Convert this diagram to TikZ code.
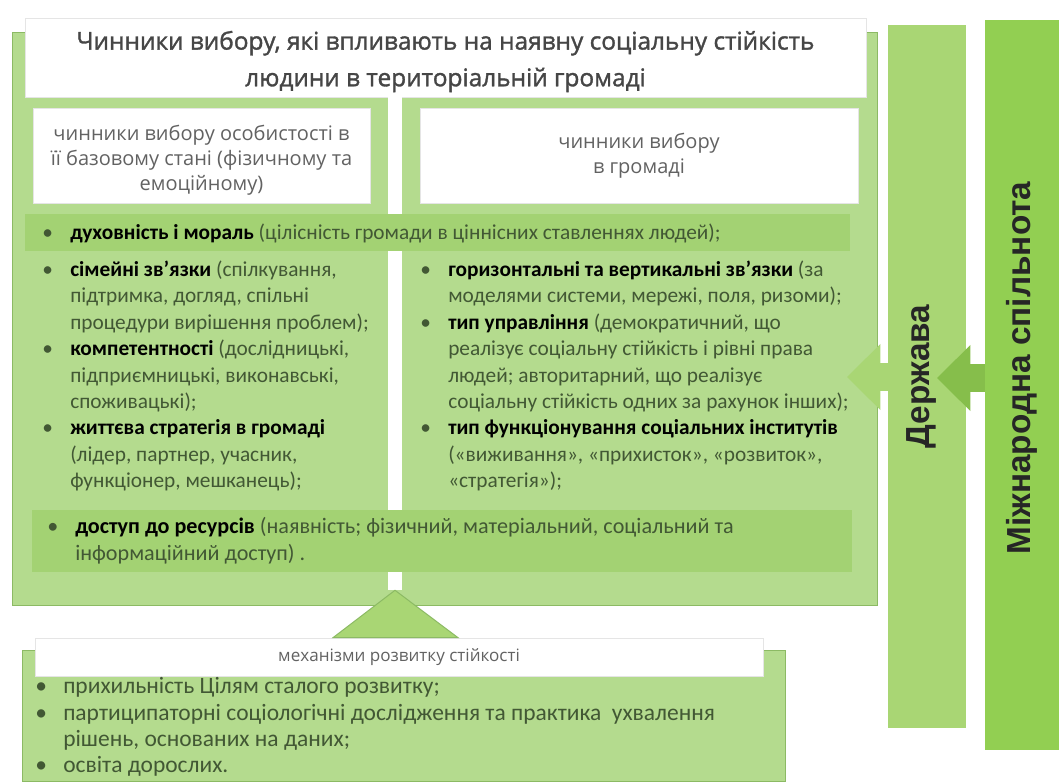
\documentclass[tikz,border=0pt]{standalone}
\usepackage{fontspec}
\setmainfont{Carlito}
\newfontfamily\headfont{Open Sans}
\newfontfamily\titlefont{Open Sans}[FakeBold=1.4]
\newfontfamily\sidefont{Liberation Sans}
\usetikzlibrary{positioning,arrows.meta,calc,fit}
\definecolor{boxg}{RGB}{180,219,142}
\definecolor{barg}{RGB}{163,210,115}
\definecolor{stateg}{RGB}{169,214,116}
\definecolor{worldg}{RGB}{146,207,82}
\definecolor{edgeg}{RGB}{140,186,100}
\definecolor{bodyc}{RGB}{66,88,52}
\definecolor{headc}{RGB}{70,70,70}
\tikzset{
  panel/.style={draw=edgeg, fill=boxg, line width=0.75pt, inner sep=0pt},
  hdrbox/.style={fill=white, draw=gray!20, line width=0.5pt, inner sep=0pt},
  bar/.style={fill=barg, inner sep=0pt},
  split/.style={fill=white, inner sep=0pt},
  statebox/.style={fill=stateg, inner sep=0pt},
  worldbox/.style={fill=worldg, inner sep=0pt},
  lst/.style={anchor=west, align=left, inner sep=0pt, text=bodyc, font=\fontsize{16}{19.8}\selectfont},
  hd/.style={align=center, inner sep=0pt, text=headc!85, font=\headfont\fontsize{15}{18.8}\selectfont},
  lbl/.style={rotate=90, inner sep=0pt, text=black!85, font=\sidefont\bfseries\fontsize{25}{25}\selectfont},
  blk/.style={-{Triangle[length=25pt,width=48pt]}, line width=21pt},
}
\newcommand\pnt{\makebox[21pt][l]{\textbullet}}
\newcommand\ind{\hspace*{21pt}}
\newcommand\kw[1]{\textbf{\color{black}#1}}

\begin{document}
\begin{tikzpicture}[x=0.75pt,y=-0.75pt]
\useasboundingbox (0,0) rectangle (1059,783);
% right-hand frames
\node[worldbox, fit={(985,20) (1059,750)}] (world) {};
\node[statebox, fit={(888,25) (966,728)}] (state) {};
% main block
\node[panel, fit={(12,32) (877,605)}] (main) {};
\node[hdrbox, fit={(25,18) (866,97)}] (title) {};
\node[split, fit={(388,97) (402,590)}] (gap) {};
\node[hdrbox, fit={(33,108) (370,203)}] (pers) {};
\node[hdrbox, fit={(420,108) (858,203)}] (comm) {};
\node[bar, fit={(25,214) (850,251)}] (moral) {};
\node[bar, fit={(32,510) (852,572)}] (access) {};
% mechanisms
\node[panel, fit={(22,650) (785,781)}] (mech) {};
\node[hdrbox, fit={(35,638) (763,676)}] (mechhd) {};
\fill[stateg, draw=edgeg, line width=0.75pt] (gap.south)
  -- ($(gap.south |- mechhd.north)+(-62,0)$) -- ($(gap.south |- mechhd.north)+(63,0)$) -- cycle;
% arrows
\coordinate (tipw) at (937,378);
\coordinate (tips) at (847,377);
\draw[blk, worldg!92!black] (world.west |- tipw) -- (tipw);
\draw[blk, stateg] (state.west |- tips) -- (tips);
% texts
\node[font=\titlefont\fontsize{18.3}{27.5}\selectfont, align=center, text=headc, inner sep=0pt]
  at ($(title.center)+(0,4)$) {Чинники вибору, які впливають на наявну соціальну стійкість\\людини в територіальній громаді};
\node[hd] at ($(pers.center)+(0,5)$) {чинники вибору особистості в\\її базовому стані (фізичному та\\емоційному)};
\node[hd] at (comm.center) {чинники вибору\\в громаді};
\node[lst] at (42,233) {\pnt\kw{духовність і мораль} (цілісність громади в ціннісних ставленнях людей);};
\node[lst] at (42,376) {\pnt\kw{сімейні зв’язки} (спілкування,\\
  \ind підтримка, догляд, спільні\\
  \ind процедури вирішення проблем);\\
  \pnt\kw{компетентності} (дослідницькі,\\
  \ind підприємницькі, виконавські,\\
  \ind споживацькі);\\
  \pnt\kw{життєва стратегія в громаді}\\
  \ind (лідер, партнер, учасник,\\
  \ind функціонер, мешканець);};
\node[lst] at (420,376) {\pnt\kw{горизонтальні та вертикальні зв’язки} (за\\
  \ind моделями системи, мережі, поля, ризоми);\\
  \pnt\kw{тип управління} (демократичний, що\\
  \ind реалізує соціальну стійкість і рівні права\\
  \ind людей; авторитарний, що реалізує\\
  \ind соціальну стійкість одних за рахунок інших);\\
  \pnt\kw{тип функціонування соціальних інститутів}\\
  \ind («виживання», «прихисток», «розвиток»,\\
  \ind «стратегія»);};
\node[lst, font=\fontsize{16.6}{20}\selectfont] at (47,541) {\pnt\kw{доступ до ресурсів} (наявність; фізичний, матеріальний, соціальний та\\
  \ind інформаційний доступ) .};
\node[hd, font=\headfont\fontsize{12.8}{16}\selectfont] at (mechhd.center) {механізми розвитку стійкості};
\node[lst, font=\fontsize{17.6}{19.6}\selectfont] at (35,727) {\pnt прихильність Цілям сталого розвитку;\\
  \pnt партиципаторні соціологічні дослідження та практика\ \ ухвалення\\
  \ind рішень, основаних на даних;\\
  \pnt освіта дорослих.};
\node[lbl] at ($(state.center)+(-6,0)$) {Держава};
\node[lbl] at ($(world.center)+(0,-17)$) {Міжнародна спільнота};
\end{tikzpicture}
\end{document}
